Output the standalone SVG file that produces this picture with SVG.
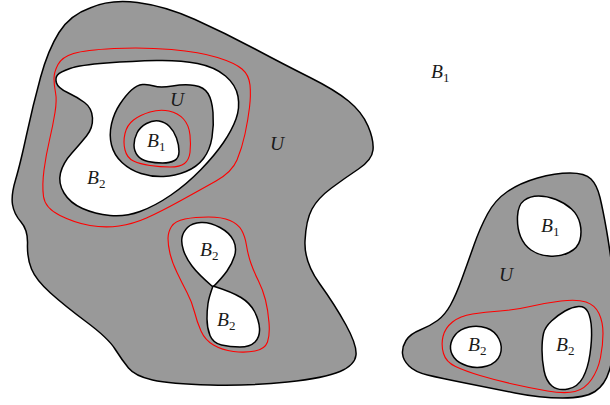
<svg xmlns="http://www.w3.org/2000/svg" width="610" height="405" viewBox="0 0 610 405">
<style>
.g{fill:#999999;stroke:#000;stroke-width:1.5;stroke-linejoin:round}
.w{fill:#ffffff;stroke:#000;stroke-width:1.5;stroke-linejoin:round}
.r{fill:none;stroke:#ff0000;stroke-width:1.1}
.t{font-family:"Liberation Serif","DejaVu Serif",serif;font-style:italic;font-size:19.5px;fill:#1a1a1a}
.s{font-style:normal;font-size:13px}
</style>
<rect width="610" height="405" fill="#fff"/>
<g id="left-region">
<path class="g" d="M90,8 Q110,-1 137.5,2.5 Q165,6 195,19.5 Q225,33 255,49 Q285,65 310,77.5 Q335,90 348.5,101 Q362,112 368,126 Q374,140 373,150 Q372,160 358.5,169 Q345,178 331.5,188 Q318,198 312,209 Q306,220 305,241 Q304,262 319.5,283.5 Q335,305 346,325 Q357,345 356,355 Q355,365 340,371.5 Q325,378 287.5,382 Q250,386 210,385 Q170,384 152.5,380 Q135,376 128.5,368 Q122,360 115,349 Q108,338 86.5,322 Q65,306 50.5,293 Q36,280 31.5,269 Q27,258 27.5,244 Q28,230 21,222 Q14,214 12.5,204.5 Q11,195 15.5,180 Q20,165 26.5,135 Q33,105 40.5,77.5 Q48,50 59,32.5 Q70,15 90,8 Z"/>
<path class="w" d="M57.5,75 Q60,72 70,68.5 Q80,65 106.5,63 Q133,61 156.5,60.5 Q180,60 197.5,63.5 Q215,67 225.5,76 Q236,85 238,96.5 Q240,108 236,119 Q232,130 223.5,142.5 Q215,155 201,169.5 Q187,184 171,195 Q155,206 140,211.5 Q125,217 110,215.5 Q95,214 82.5,208.5 Q70,203 64,193 Q58,183 60.5,173 Q63,163 71.5,153.5 Q80,144 86.5,136 Q93,128 92.5,118 Q92,108 84.5,102.5 Q77,97 67.5,92.5 Q58,88 56.5,83 Q55,78 57.5,75 Z"/>
<path class="g" d="M131.5,90 Q137,85 142.5,84.5 Q148,84 154,86 Q160,88 172.5,86 Q185,84 194.5,85.5 Q204,87 208,93.5 Q212,100 213,112.5 Q214,125 212,137.5 Q210,150 203.5,158.5 Q197,167 186,171.5 Q175,176 163.5,176.5 Q152,177 141,173.5 Q130,170 122,162.5 Q114,155 111.5,145 Q109,135 111.5,124 Q114,113 120,104 Q126,95 131.5,90 Z"/>
<path class="w" d="M146.5,123.5 Q153,120 159,121 Q165,122 169.5,126.5 Q174,131 176.5,138 Q179,145 179,151.5 Q179,158 174.5,160.5 Q170,163 162.5,163 Q155,163 148,161.5 Q141,160 137.5,155.5 Q134,151 134,145 Q134,139 137,133 Q140,127 146.5,123.5 Z"/>
<path class="w" d="M182,237.5 Q183,232 187.5,227.5 Q192,223 201,222.5 Q210,222 220,227.5 Q230,233 233.5,240.5 Q237,248 234.5,256 Q232,264 227,271 Q222,278 213,287 Q198,274 192,266 Q186,258 183.5,250.5 Q181,243 182,237.5 Z"/>
<path class="w" d="M213,286 Q232,292 241,297.5 Q250,303 254.5,311.5 Q259,320 259.5,328.5 Q260,337 255,342 Q250,347 240,347 Q230,347 221.5,345 Q213,343 210,335.5 Q207,328 207,319 Q207,310 208,303.5 Q209,297 213,286 Z"/>
</g>
<g id="right-region">
<path class="g" d="M402.5,353.5 Q402,347 406,340.5 Q410,334 420,330 Q430,326 437.5,320.5 Q445,315 450.5,305 Q456,295 462,278.5 Q468,262 474,245 Q480,228 487.5,214 Q495,200 507.5,191.5 Q520,183 537.5,178 Q555,173 570,173 Q585,173 591,179 Q597,185 600,197.5 Q603,210 606.5,230 Q610,250 613,275 Q616,300 615,327.5 Q614,355 609.5,370 Q605,385 595,391.5 Q585,398 562.5,398 Q540,398 515,393 Q490,388 465,383 Q440,378 427.5,375 Q415,372 409,366 Q403,360 402.5,353.5 Z"/>
<path class="w" d="M517.5,216.5 Q518,205 524,200.5 Q530,196 538.5,196 Q547,196 556,199.5 Q565,203 571.5,209 Q578,215 580,223.5 Q582,232 580,240 Q578,248 569,252.5 Q560,257 549,256 Q538,255 531,250 Q524,245 520.5,236.5 Q517,228 517.5,216.5 Z"/>
<path class="w" d="M450.5,346 Q451,340 455.5,334.5 Q460,329 469,327 Q478,325 486.5,328 Q495,331 499,339 Q503,347 500,355 Q497,363 487,366 Q477,369 467.5,366 Q458,363 454,357.5 Q450,352 450.5,346 Z"/>
<path class="w" d="M543.5,333.5 Q545,327 551.5,321 Q558,315 565,311 Q572,307 578.5,306.5 Q585,306 588,312 Q591,318 591.5,329 Q592,340 590,354 Q588,368 583,377.5 Q578,387 568,389 Q558,391 552,386 Q546,381 544,370.5 Q542,360 542,350 Q542,340 543.5,333.5 Z"/>
</g>
<g id="red-contours">
<path class="r" d="M54,78.5 Q54,72 58,64.5 Q62,57 73.5,53.5 Q85,50 114,48.5 Q143,47 171.5,49.5 Q200,52 217.5,57.5 Q235,63 242,69 Q249,75 250,85 Q251,95 249.5,107.5 Q248,120 245,134 Q242,148 237,160 Q232,172 216,181 Q200,190 180,201 Q160,212 146.5,218 Q133,224 119,226 Q105,228 90,225.5 Q75,223 60,215.5 Q45,208 43.5,196.5 Q42,185 44,170 Q46,155 49.5,140 Q53,125 55,112.5 Q57,100 55.5,92.5 Q54,85 54,78.5 Z"/>
<path class="r" d="M125,133.5 Q127,125 133.5,120 Q140,115 150,112 Q160,109 169,111 Q178,113 183.5,119 Q189,125 190,135 Q191,145 190,152.5 Q189,160 184.5,163.5 Q180,167 170,167 Q160,167 150,165.5 Q140,164 133.5,161 Q127,158 125,150 Q123,142 125,133.5 Z"/>
<path class="r" d="M168,238.5 Q168,232 171.5,226.5 Q175,221 185,219 Q195,217 208.5,217 Q222,217 230,220.5 Q238,224 241.5,230 Q245,236 246.5,245.5 Q248,255 251,263.5 Q254,272 258.5,281 Q263,290 265.5,300 Q268,310 269,322.5 Q270,335 267.5,342 Q265,349 255,351 Q245,353 233.5,351.5 Q222,350 213.5,345 Q205,340 201,331 Q197,322 194.5,312 Q192,302 187,292.5 Q182,283 177,272.5 Q172,262 170,253.5 Q168,245 168,238.5 Z"/>
<path class="r" d="M443.5,353.5 Q441,345 443,336.5 Q445,328 452.5,322 Q460,316 472.5,314 Q485,312 500,311 Q515,310 530,306.5 Q545,303 561,301 Q577,299 586,302 Q595,305 599,313.5 Q603,322 603,333.5 Q603,345 600.5,357.5 Q598,370 591.5,379.5 Q585,389 575,391.5 Q565,394 547.5,391 Q530,388 512.5,384 Q495,380 480,375.5 Q465,371 455.5,366.5 Q446,362 443.5,353.5 Z"/>
</g>
<g id="labels" class="t">
<text x="170" y="106">U</text>
<text x="270" y="150">U</text>
<text x="147" y="147">B<tspan class="s" dy="3.5">1</tspan></text>
<text x="87" y="184">B<tspan class="s" dy="3.5">2</tspan></text>
<text x="200" y="256">B<tspan class="s" dy="3.5">2</tspan></text>
<text x="217" y="326">B<tspan class="s" dy="3.5">2</tspan></text>
<text x="431" y="78">B<tspan class="s" dy="3.5">1</tspan></text>
<text x="499" y="281">U</text>
<text x="541" y="232">B<tspan class="s" dy="3.5">1</tspan></text>
<text x="468" y="351">B<tspan class="s" dy="3.5">2</tspan></text>
<text x="556" y="351">B<tspan class="s" dy="3.5">2</tspan></text>
</g>
</svg>
